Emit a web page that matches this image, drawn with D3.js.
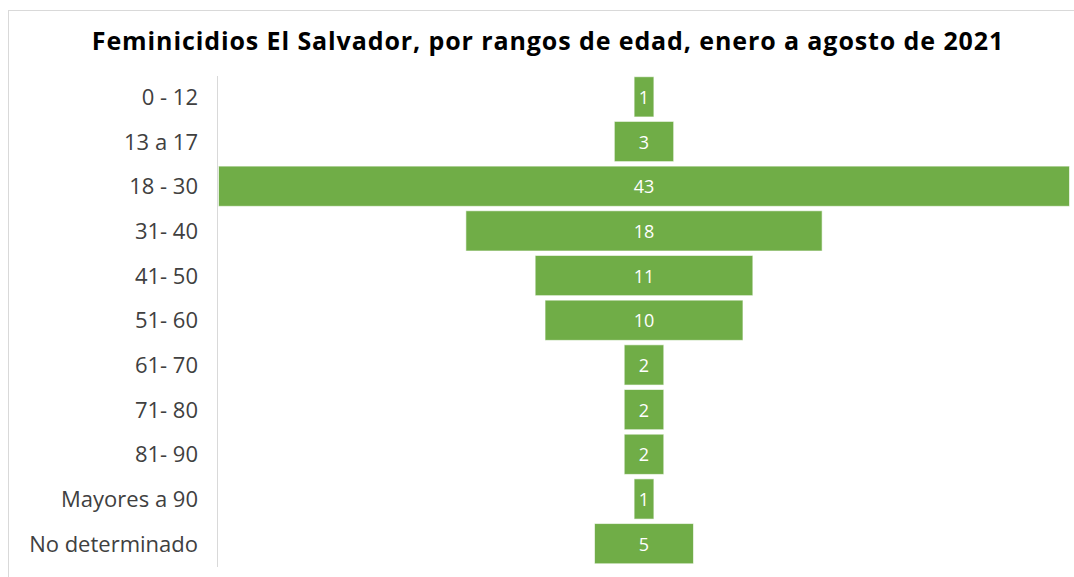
<!DOCTYPE html>
<html>
<head>
<meta charset="utf-8">
<script src="https://cdn.jsdelivr.net/npm/d3@7"></script>
<style>
  body { margin: 0; background: #fff; }
  svg text { font-family: "Open Sans", sans-serif; }
</style>
</head>
<body>
<svg id="chart" width="1074" height="577"></svg>
<script>
// data
const categories = ["0 - 12", "13 a 17", "18 - 30", "31- 40", "41- 50", "51- 60",
  "61- 70", "71- 80", "81- 90", "Mayores a 90", "No determinado"];
const values = [1, 3, 43, 18, 11, 10, 2, 2, 2, 1, 5];
const title = "Feminicidios El Salvador, por rangos de edad, enero a agosto de 2021";

const svg = d3.select("#chart");
const barColor = "#70ad47";

// chart frame
svg.append("rect")
  .attr("x", 8.5).attr("y", 10.5)
  .attr("width", 1100).attr("height", 600)
  .attr("fill", "#fff")
  .attr("stroke", "#d9d9d9");

svg.append("text")
  .attr("x", 548).attr("y", 50)
  .attr("text-anchor", "middle")
  .attr("font-size", 25)
  .attr("letter-spacing", 0.9)
  .attr("font-weight", "bold")
  .attr("fill", "#000")
  .text(title);

const center = 644;
const half = d3.scaleLinear().domain([0, d3.max(values)]).range([0, 425.5]);

const y = d3.scaleBand()
  .domain(categories)
  .range([74.5, 566])
  .paddingInner(0.1)
  .paddingOuter(0.05);

// vertical axis
svg.append("line")
  .attr("x1", 217.5).attr("x2", 217.5)
  .attr("y1", 76).attr("y2", 567)
  .attr("stroke", "#d9d9d9");

const rows = svg.append("g").selectAll("g")
  .data(categories.map((c, i) => ({ cat: c, v: values[i] })))
  .join("g");

rows.append("rect")
  .attr("x", d => center - half(d.v))
  .attr("y", d => y(d.cat))
  .attr("width", d => 2 * half(d.v))
  .attr("height", y.bandwidth())
  .attr("fill", barColor)
  .attr("stroke", "#fff")
  .attr("stroke-opacity", 0.6)
  .attr("stroke-width", 1);

rows.append("text")
  .attr("x", center)
  .attr("y", d => y(d.cat) + y.bandwidth() / 2 + 7)
  .attr("text-anchor", "middle")
  .attr("font-size", 18)
  .attr("fill", "#fff")
  .text(d => d.v);

rows.append("text")
  .attr("x", 198)
  .attr("y", d => y(d.cat) + y.bandwidth() / 2 + 8)
  .attr("text-anchor", "end")
  .attr("font-size", 22)
  .attr("fill", "#404040")
  .text(d => d.cat);
</script>
</body>
</html>
